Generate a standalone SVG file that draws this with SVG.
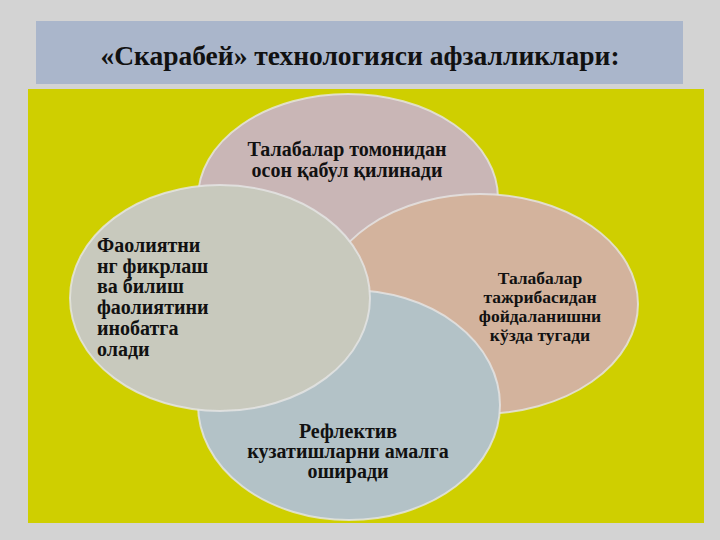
<svg xmlns="http://www.w3.org/2000/svg" width="720" height="540" viewBox="0 0 720 540">
  <style>
    .t { font-family: "Liberation Serif", "Times New Roman", serif; font-weight: bold; fill: #111111; }
    .lbl { font-size: 20px; }
    .sm { font-size: 17.5px; }
    .mid { text-anchor: middle; }
    .ell { stroke: #e6e6e6; stroke-opacity: 0.8; stroke-width: 2; }
  </style>
  <rect x="0" y="0" width="720" height="540" fill="#d3d3d3"/>
  <g id="title">
    <rect x="36" y="21" width="647" height="63" fill="#aab6cb"/>
    <text class="t mid" x="360" y="65" font-size="27.5">«Скарабей» технологияси афзалликлари:</text>
  </g>
  <rect id="panel" x="28" y="89" width="676" height="434" fill="#cfcf00"/>
  <g id="node-top">
    <ellipse class="ell" cx="348" cy="198" rx="150" ry="104" fill="#c9b6b6"/>
    <text class="t lbl mid" x="347" y="156">Талабалар томонидан</text>
    <text class="t lbl mid" x="347" y="177">осон қабул қилинади</text>
  </g>
  <g id="node-right">
    <ellipse class="ell" cx="480" cy="304" rx="158" ry="110" fill="#d3b39d"/>
    <text class="t sm mid" x="540" y="284">Талабалар</text>
    <text class="t sm mid" x="540" y="303">тажрибасидан</text>
    <text class="t sm mid" x="540" y="322">фойдаланишни</text>
    <text class="t sm mid" x="540" y="341">кўзда тугади</text>
  </g>
  <g id="node-bottom">
    <ellipse class="ell" cx="349" cy="405" rx="151" ry="115" fill="#b3c2c7"/>
    <text class="t lbl mid" x="348" y="438">Рефлектив</text>
    <text class="t lbl mid" x="348" y="458">кузатишларни амалга</text>
    <text class="t lbl mid" x="348" y="478">оширади</text>
  </g>
  <g id="node-left">
    <ellipse class="ell" cx="220" cy="298" rx="150" ry="113" fill="#c8c9bd"/>
    <text class="t lbl" x="97" y="252">Фаолиятни</text>
    <text class="t lbl" x="97" y="273">нг фикрлаш</text>
    <text class="t lbl" x="97" y="293">ва билиш</text>
    <text class="t lbl" x="97" y="314">фаолиятини</text>
    <text class="t lbl" x="97" y="335">инобатга</text>
    <text class="t lbl" x="97" y="356">олади</text>
  </g>
  <g id="connectors"/>
</svg>
